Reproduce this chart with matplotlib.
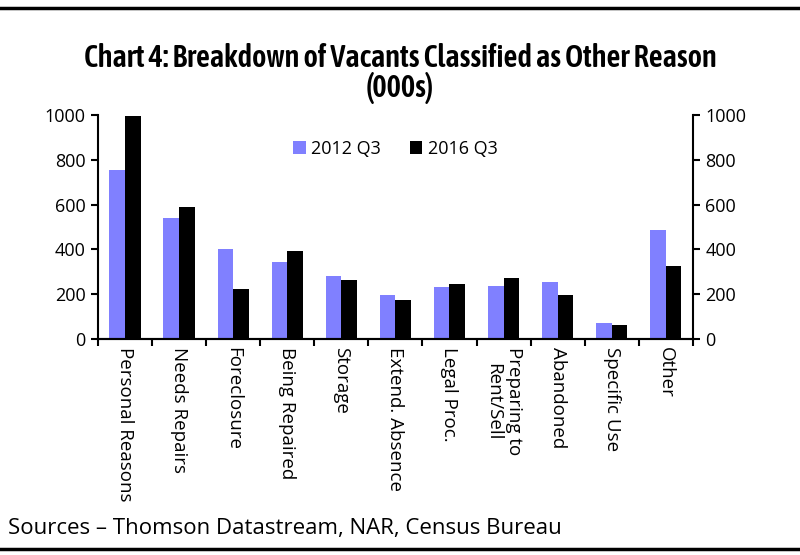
import matplotlib
matplotlib.use("Agg")
import matplotlib.pyplot as plt
import numpy as np
import logging
logging.getLogger('matplotlib.font_manager').setLevel(logging.ERROR)

# categorias e valores (000s)
categorias = ["Personal Reasons", "Needs Repairs", "Foreclosure", "Being Repaired",
              "Storage", "Extend. Absence", "Legal Proc.", "Preparing to\nRent/Sell",
              "Abandoned", "Specific Use", "Other"]
q3_2012 = [755, 541, 404, 342, 280, 197, 231, 239, 253, 71, 486]
q3_2016 = [995, 590, 224, 394, 265, 175, 246, 274, 197, 65, 327]
yticks = [0, 200, 400, 600, 800, 1000]

plt.rcParams['font.family'] = ['Open Sans', 'DejaVu Sans']
fonte_titulo = ['Asap Condensed', 'DejaVu Sans']

fig = plt.figure(figsize=(8, 5.55), dpi=100)
ax = fig.add_axes([0.1225, 0.389, 0.7435, 0.404])

x = np.arange(len(categorias))
w = 0.29
ax.bar(x - w / 2, q3_2012, w, color='#8080FF', label='2012 Q3')
ax.bar(x + w / 2, q3_2016, w, color='black', label='2016 Q3')

ax.set_xlim(-0.5, len(categorias) - 0.5)
ax.set_ylim(0, 1000)
ax.set_yticks(yticks)
ax.tick_params(axis='y', labelsize=13, length=5, width=1.5, direction='out', pad=4)

# ticks entre categorias
ax.set_xticks(np.arange(len(categorias) + 1) - 0.5)
ax.set_xticklabels([])
ax.tick_params(axis='x', length=5, width=1.5, direction='out')
ax.set_xticks(x, minor=True)
ax.set_xticklabels(categorias, minor=True, rotation=270, fontsize=13.5,
                   va='top', ha='center', multialignment='center', linespacing=1.2)
ax.tick_params(axis='x', which='minor', length=0, pad=6)

ax2 = ax.twinx()
ax2.set_ylim(0, 1000)
ax2.set_yticks(yticks)
ax2.tick_params(axis='y', labelsize=13, length=5, width=1.5, direction='out', pad=4)

for a in (ax, ax2):
    a.spines['top'].set_visible(False)
    a.spines['left'].set_linewidth(1.5)
    a.spines['right'].set_linewidth(1.5)
    a.spines['bottom'].set_linewidth(1.5)
ax2.spines['left'].set_visible(False)
ax.spines['right'].set_visible(False)

ax.legend(loc='upper center', bbox_to_anchor=(0.5, 0.96), ncol=2, frameon=False,
          fontsize=13, handlelength=0.7, handleheight=0.7, handletextpad=0.3,
          columnspacing=1.6)

fig.text(0.5, 0.895, 'Chart 4: Breakdown of Vacants Classified as Other Reason',
         ha='center', va='center', fontsize=22, fontweight=600, family=fonte_titulo)
fig.text(0.5, 0.842, '(000s)', ha='center', va='center', fontsize=22,
         fontweight=600, family=fonte_titulo)
fig.text(0.01, 0.048, 'Sources \u2013 Thomson Datastream, NAR, Census Bureau',
         ha='left', va='center', fontsize=16)

# linhas horizontais de borda
fig.add_artist(plt.Line2D([0, 1], [0.986, 0.986], color='black', linewidth=2.5))
fig.add_artist(plt.Line2D([0, 1], [0.01, 0.01], color='black', linewidth=2.5))

fig.savefig('out.png', dpi=100)
